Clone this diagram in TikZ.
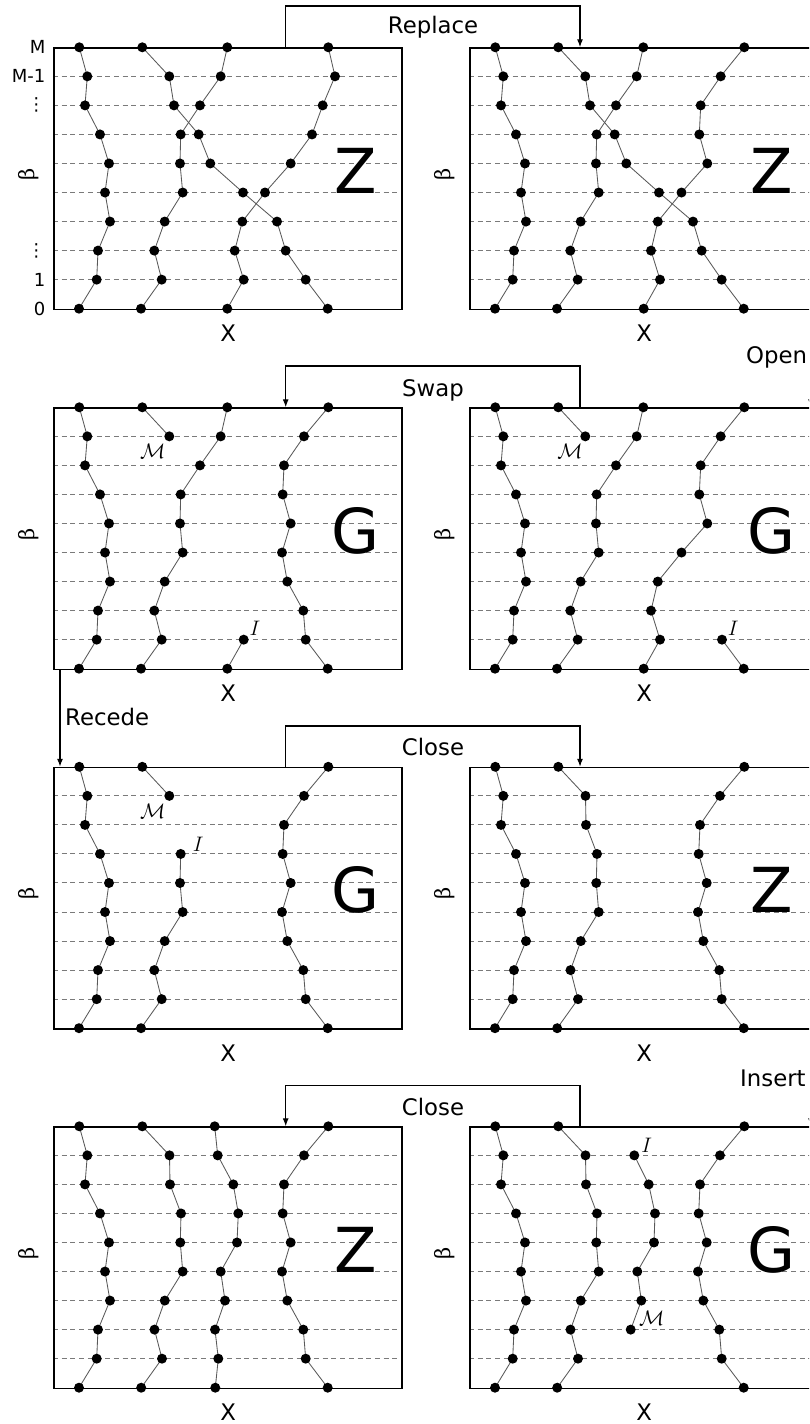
\documentclass[tikz,border=0pt]{standalone}
\usepackage{fix-cm}
\usepackage{fontspec}
\setmainfont{DejaVu Sans}
\newfontfamily\serifb{DejaVu Serif}
\usetikzlibrary{arrows.meta}
\tikzset{
  frame/.style={draw, line width=1.6pt, minimum width=348pt, minimum height=261.4pt, inner sep=0pt, anchor=north west},
  wl/.style={line width=0.85pt, draw=black!65},
  lvl/.style={draw=black!52, line width=1pt, dash pattern=on 5pt off 3.7pt},
  conn/.style={draw, line width=1.2pt, -{Latex[length=8pt,width=6pt]}},
  lab/.style={font=\fontsize{22.8}{27}\selectfont, inner sep=0pt},
  big/.style={font=\fontsize{62}{70}\selectfont, inner sep=0pt},
  tick/.style={font=\fontsize{18}{21}\selectfont, inner sep=0pt, anchor=east},
  betal/.style={font=\serifb\fontsize{21}{24}\selectfont, rotate=90, inner sep=0pt},
  tag/.style={font=\fontsize{21}{24}\selectfont, inner sep=0pt},
}
\newcommand\panel[4]{%
  \foreach \k in {1,...,8}{\draw[lvl] (#2+53,#3+\k*29.044) -- (#2+401,#3+\k*29.044);}%
  \node[frame] (#1) at (#2+53,#3) {};%
  \node[big] (#1-l) at (#2+356,#3+123.5) {#4};%
  \node[lab] (#1-x) at (#2+228.3,#3+286.2) {X};%
  \node[betal] (#1-b) at (#2+29,#3+127) {β};%
}
\newcommand\wline[4]{%
  \foreach \xx [count=\i from #3, remember=\xx as \px (initially 0)] in #4{%
    \ifnum\i>#3\relax
      \draw[wl] (#1+\px,#2+\i*29.044-29.044) -- (#1+\xx,#2+\i*29.044);
    \fi
  }%
  \foreach \xx [count=\i from #3] in #4{%
    \fill (#1+\xx,#2+\i*29.044) circle (5pt);
  }%
}
\def\LA{79.3,87.3,85,100,109,105,110,98,96.7,79}
\def\LB{142.3,169.3,174,198.7,210.3,243,277,285.7,305.7,327.7}
\def\LC{227.3,220.7,200,180.7,180,182.7,164.7,154.3,161.7,141}
\def\LD{328.3,335,322.7,312,290.7,265,242.3,234.7,243.7,227.3}
\def\LDp{328.3,304.7,284.7,283.3,291.3,265.5,241.8,235,244,227.7}
\def\LE{328.3,304,284,282.7,290.7,282,287.3,303.3,305.7,327.7}
\def\LF{142.3,169.5,170,181,180.3,182.7,164.8,154.5,162,141.2}
\def\LG{214.7,217.7,233.3,238.3,237,220.7,225,215,218.3,215.3}
\def\LH{218.3,232.7,239,238,221.3,225.3,214.7}
\def\LM{142.3,169.3}
\def\LCl{180.7,180,182.7,164.7,154.3,161.7,141}
\begin{document}
\begin{tikzpicture}[x=1pt,y=-1pt]
\useasboundingbox (0,0) rectangle (809,1424);
\clip (0,0) rectangle (809,1424);
% row 1
\panel{p11}{0}{47.3}{Z}
\panel{p12}{416}{47.3}{Z}
% row 2
\panel{p21}{0}{407.3}{G}
\panel{p22}{416}{407.3}{G}
% row 3
\panel{p31}{0}{766.8}{G}
\panel{p32}{416}{766.8}{Z}
% row 4
\panel{p41}{0}{1126.3}{Z}
\panel{p42}{416}{1126.3}{G}
% worldlines row 1
\wline{0}{47.3}{0}{\LA}
\wline{0}{47.3}{0}{\LB}
\wline{0}{47.3}{0}{\LC}
\wline{0}{47.3}{0}{\LD}
\wline{416}{47.3}{0}{\LA}
\wline{416}{47.3}{0}{\LB}
\wline{416}{47.3}{0}{\LC}
\wline{416}{47.3}{0}{\LDp}
% row 2
\wline{0}{407.3}{0}{\LA}
\wline{0}{407.3}{0}{\LM}
\wline{0}{407.3}{0}{\LC}
\wline{0}{407.3}{0}{\LE}
\wline{0}{407.3}{8}{{243.7,227.3}}
\wline{416}{407.3}{0}{\LA}
\wline{416}{407.3}{0}{\LM}
\wline{416}{407.3}{0}{\LC}
\wline{416}{407.3}{0}{\LDp}
\wline{416}{407.3}{8}{{306,327.7}}
% row 3
\wline{0}{766.8}{0}{\LA}
\wline{0}{766.8}{0}{\LM}
\wline{0}{766.8}{3}{\LCl}
\wline{0}{766.8}{0}{\LE}
\wline{416}{766.8}{0}{\LA}
\wline{416}{766.8}{0}{\LF}
\wline{416}{766.8}{0}{\LE}
% row 4
\wline{0}{1126.3}{0}{\LA}
\wline{0}{1126.3}{0}{\LF}
\wline{0}{1126.3}{0}{\LG}
\wline{0}{1126.3}{0}{\LE}
\wline{416}{1126.3}{0}{\LA}
\wline{416}{1126.3}{0}{\LF}
\wline{416}{1126.3}{1}{\LH}
\wline{416}{1126.3}{0}{\LE}
% tick labels
\node[tick] (tM) at (45.5,47.3) {M};
\node[tick] (tM1) at (45.5,76.3) {M-1};
\node[tick] (td1) at (45.5,105.4) {⋮};
\node[tick] (td2) at (45.5,250.6) {⋮};
\node[tick] (t1) at (45.5,279.7) {1};
\node[tick] (t0) at (45.5,308.7) {0};
% marks
\node[tag] (m21) at (152.7,451.7) {$\mathcal{M}$};
\node[tag] (i21) at (255,628.3) {$I$};
\node[tag] (m22) at (570,451.7) {$\mathcal{M}$};
\node[tag] (i22) at (733.3,628.3) {$I$};
\node[tag] (m31) at (152.7,811) {$\mathcal{M}$};
\node[tag] (i31) at (198.3,844) {$I$};
\node[tag] (i42) at (646.7,1145) {$I$};
\node[tag] (m42) at (651.7,1318.3) {$\mathcal{M}$};
% connectors
\draw[conn] ([xshift=232.7pt]p11.north west) -- ++(0,-41.3) -| ([xshift=111pt]p12.north west);
\draw[conn] ([xshift=111pt]p22.north west) -- ++(0,-41.3) -| ([xshift=232.7pt]p21.north west);
\draw[conn] ([xshift=232.7pt]p31.north west) -- ++(0,-40.8) -| ([xshift=111pt]p32.north west);
\draw[conn] ([xshift=111pt]p42.north west) -- ++(0,-40.6) -| ([xshift=232.7pt]p41.north west);
\draw[conn] ([xshift=7pt]p21.south west) -- ([xshift=7pt]p31.north west);
\draw[conn] ([xshift=342pt]p12.south west) -- ([xshift=342pt]p22.north west);
\draw[conn] ([xshift=342pt]p32.south west) -- ([xshift=342pt]p42.north west);
% connector labels
\node[lab, anchor=base] (tRep) at (433,33.3) {Replace};
\node[lab, anchor=base] (tSwap) at (433,396.7) {Swap};
\node[lab, anchor=base] (tC1) at (433,755) {Close};
\node[lab, anchor=base] (tC2) at (433,1115) {Close};
\node[lab, anchor=base west] (tRec) at (65,725) {Recede};
\node[lab, anchor=base west] (tOpen) at (746,363.3) {Open};
\node[lab, anchor=base west] (tIns) at (740,1086.7) {Insert};
\end{tikzpicture}
\end{document}
